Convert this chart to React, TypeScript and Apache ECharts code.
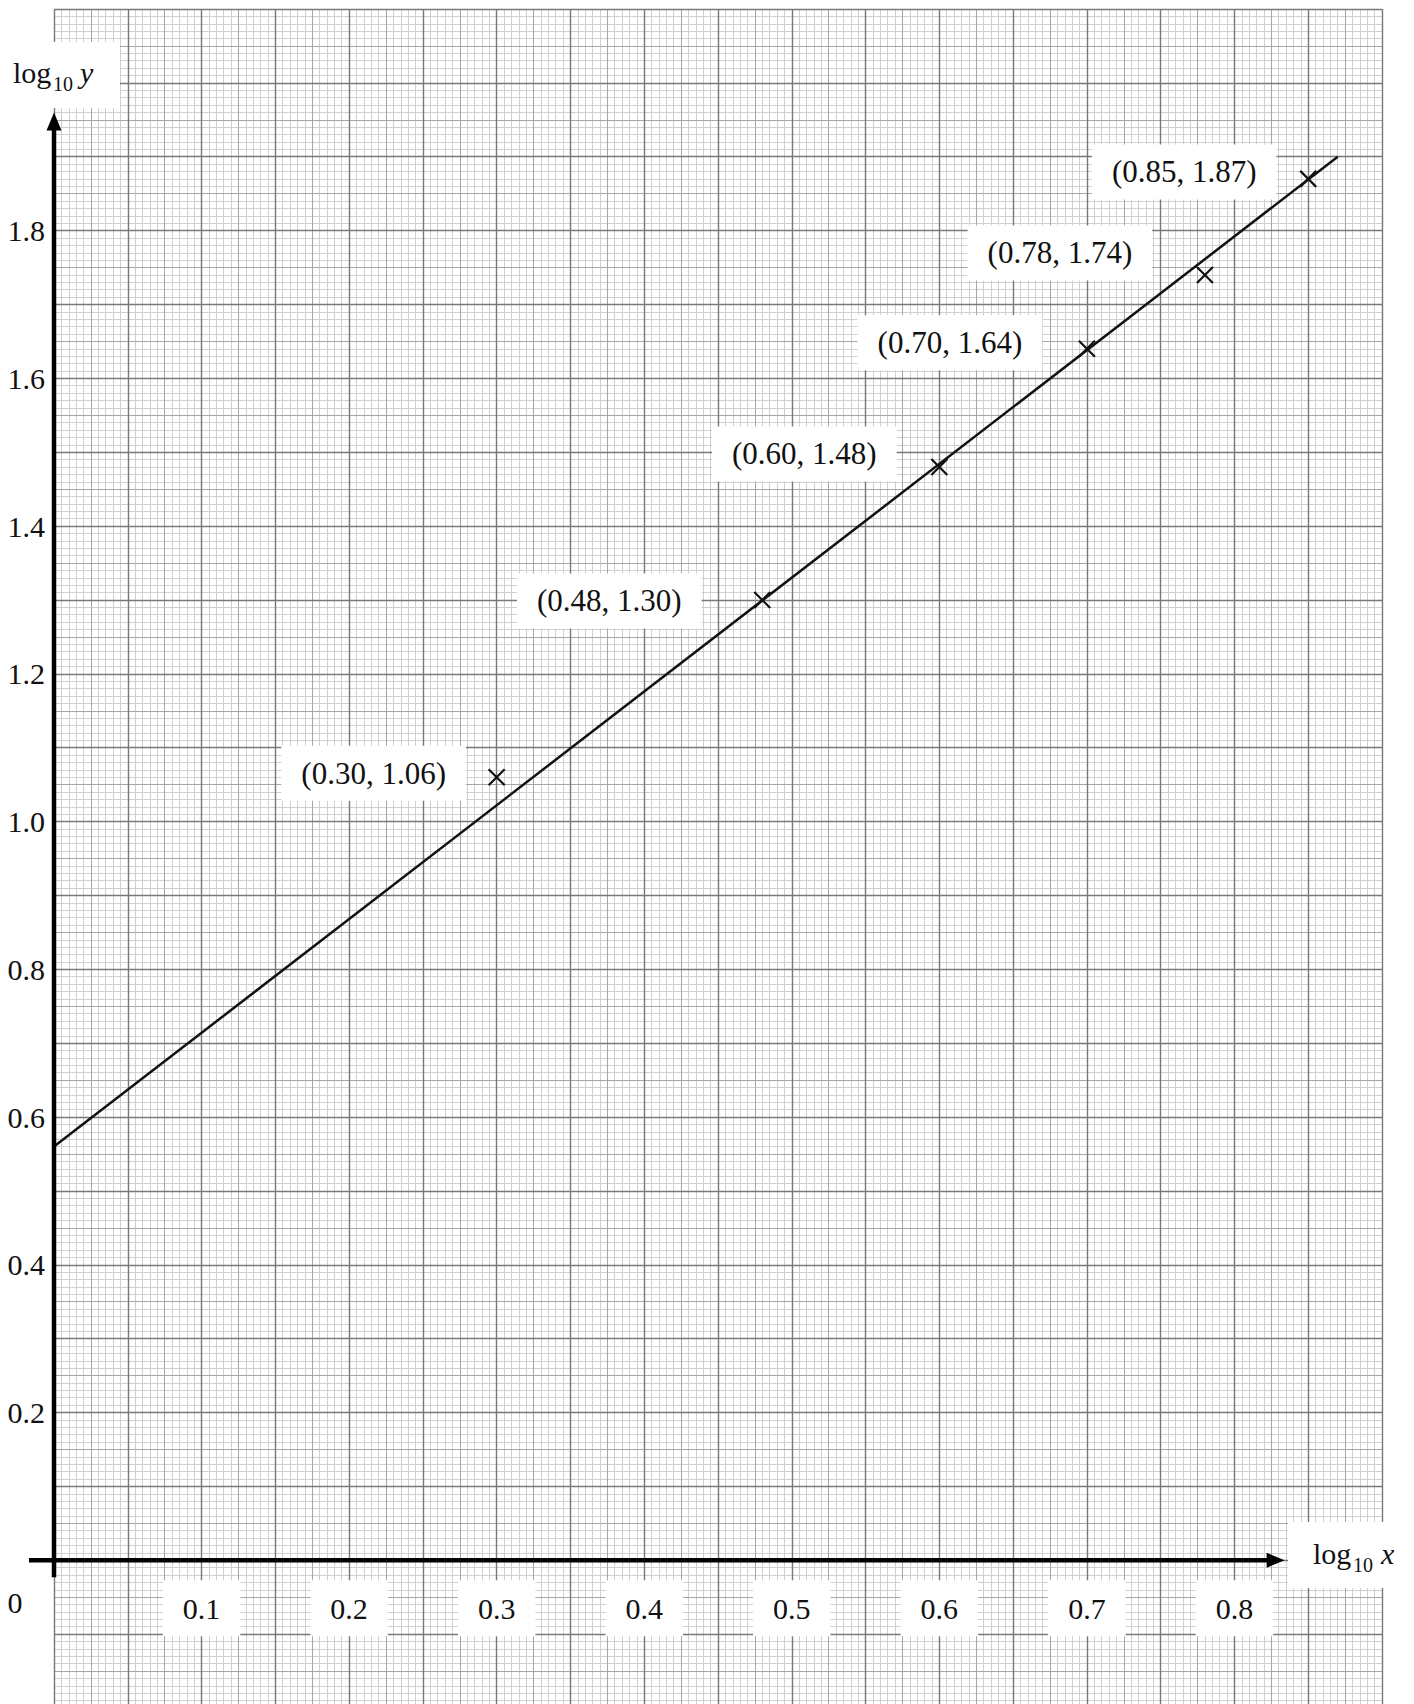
import React, { useEffect, useRef } from 'react';
import * as echarts from 'echarts';

// ---- data ----
const pointsX = [0.3, 0.48, 0.6, 0.7, 0.78, 0.85];
const pointsY = [1.06, 1.3, 1.48, 1.64, 1.74, 1.87];
const fitLineX = [0, 0.87];
const fitLineY = [0.56, 1.9];
const xTickValues = [0.1, 0.2, 0.3, 0.4, 0.5, 0.6, 0.7, 0.8];
const yTickValues = [0.2, 0.4, 0.6, 0.8, 1.0, 1.2, 1.4, 1.6, 1.8];
const originLabel = '0';
const xTitleParts = ['log', '10', 'x'];
const yTitleParts = ['log', '10', 'y'];

// ---- styling (label offsets in px relative to each point) ----
const labelOffsets = [
  [-123, -4],
  [-153, 1],
  [-135, -13],
  [-137, -6],
  [-145, -22],
  [-124, -7],
];

const FONT = '"Liberation Serif", "Times New Roman", serif';
const INK = '#111';
const Y_MIN = -0.2;

export default function App() {
  const ref = useRef<HTMLDivElement>(null);

  useEffect(() => {
    const chart = echarts.init(ref.current as HTMLDivElement, null, { renderer: 'svg' });

    const gridX = (interval: number, color: string, width: number, z: number) => ({
      type: 'value',
      min: 0,
      max: 0.9,
      interval,
      z,
      axisLine: { show: false, onZero: false },
      axisTick: { show: false },
      axisLabel: { show: false },
      splitLine: { show: true, lineStyle: { color, width } },
    });
    const gridY = (interval: number, color: string, width: number, z: number) => ({
      type: 'value',
      min: Y_MIN,
      max: 2.1,
      interval,
      z,
      axisLine: { show: false, onZero: false },
      axisTick: { show: false },
      axisLabel: { show: false },
      splitLine: { show: true, lineStyle: { color, width } },
    });

    const option: any = {
      animation: false,
      backgroundColor: '#fff',
      grid: { left: 54, right: 32, top: 9, bottom: 12, containLabel: false, outerBoundsMode: 'none' },
      xAxis: [
        {
          type: 'value',
          min: 0,
          max: 0.9,
          interval: 0.05,
          z: 10,
          position: 'bottom',
          offset: 0,
          axisLine: { show: false, onZero: false },
          axisTick: { show: false },
          splitLine: { show: false },
          axisLabel: {
            customValues: xTickValues,
            formatter: (v: number) => v.toFixed(1),
            fontSize: 30,
            lineHeight: 30,
            fontFamily: FONT,
            color: INK,
            backgroundColor: '#fff',
            padding: [13, 20, 13, 20],
            margin: 20,
          },
        },
        gridX(0.05, '#787878', 1.4, 3),
        gridX(0.025, '#a6a6a6', 1, 2),
        gridX(0.005, '#cfcfcf', 1, 1),
      ],
      yAxis: [
        {
          type: 'value',
          min: Y_MIN,
          max: 2.1,
          interval: 0.1,
          z: 10,
          position: 'left',
          axisLine: { show: false, onZero: false },
          axisTick: { show: false },
          splitLine: { show: false },
          axisLabel: {
            customValues: yTickValues,
            formatter: (v: number) => v.toFixed(1),
            fontSize: 30,
            fontFamily: FONT,
            color: INK,
            margin: 9,
          },
        },
        gridY(0.1, '#787878', 1.4, 3),
        gridY(0.05, '#a6a6a6', 1, 2),
        gridY(0.01, '#cfcfcf', 1, 1),
      ],
      series: [
        {
          type: 'line',
          z: 5,
          symbol: 'none',
          silent: true,
          lineStyle: { color: INK, width: 2.5 },
          data: fitLineX.map((x, i) => [x, fitLineY[i]]),
        },
        {
          type: 'scatter',
          z: 6,
          symbol: 'path://M0,0L10,10M10,0L0,10',
          symbolSize: 16,
          itemStyle: { color: 'rgba(0,0,0,0)', borderColor: INK, borderWidth: 2.2, opacity: 1 },
          label: {
            show: true,
            position: 'inside',
            formatter: (p: any) => `(${p.value[0].toFixed(2)}, ${p.value[1].toFixed(2)})`,
            fontSize: 31,
            lineHeight: 31,
            fontFamily: FONT,
            color: INK,
            backgroundColor: '#fff',
            padding: [12, 20, 12, 20],
          },
          data: pointsX.map((x, i) => ({
            value: [x, pointsY[i]],
            label: { offset: labelOffsets[i] },
          })),
        },
      ],
    };

    chart.setOption(option);

    const toPx = (x: number, y: number) =>
      chart.convertToPixel({ gridIndex: 0 } as any, [x, y]) as number[];
    const [ox, oy] = toPx(0, 0);
    const [, yBottom] = toPx(0, Y_MIN);
    const [, yTip] = toPx(0, 1.96);
    const [xTip] = toPx(0.834, 0);
    const axisW = 4.5;
    const head = 18;
    const halfHead = 7.5;

    const txt = (text: string, x: number, y: number, size: number, italic = false, align = 'left') => ({
      type: 'text',
      z: 21,
      x,
      y,
      style: {
        text,
        fontSize: size,
        fontFamily: FONT,
        fontStyle: italic ? 'italic' : 'normal',
        fill: INK,
        align,
        verticalAlign: 'middle',
      },
    });

    chart.setOption({
      // move the labelled x axis up onto y = 0
      xAxis: [{ offset: -(yBottom - oy) }],
      graphic: [
        // axes
        {
          type: 'line',
          z: 20,
          shape: { x1: ox, y1: oy + 17, x2: ox, y2: yTip + head - 1 },
          style: { stroke: '#000', lineWidth: axisW },
        },
        {
          type: 'polygon',
          z: 20,
          shape: { points: [[ox, yTip], [ox - halfHead, yTip + head], [ox + halfHead, yTip + head]] },
          style: { fill: '#000' },
        },
        {
          type: 'line',
          z: 20,
          shape: { x1: ox - 25, y1: oy, x2: xTip - head + 1, y2: oy },
          style: { stroke: '#000', lineWidth: axisW },
        },
        {
          type: 'polygon',
          z: 20,
          shape: { points: [[xTip, oy], [xTip - head, oy - halfHead], [xTip - head, oy + halfHead]] },
          style: { fill: '#000' },
        },
        // origin label
        txt(originLabel, ox - 39, oy + 42, 30, false, 'center'),
        // y title
        { type: 'rect', z: 20, shape: { x: 0, y: 42, width: 120, height: 66 }, style: { fill: '#fff' } },
        txt(yTitleParts[0], 13, 72, 30),
        txt(yTitleParts[1], 53, 84, 20),
        txt(yTitleParts[2], 80, 72, 30, true),
        // x title
        { type: 'rect', z: 20, shape: { x: 1288, y: 1522, width: 126, height: 66 }, style: { fill: '#fff' } },
        txt(xTitleParts[0], 1313, 1553, 30),
        txt(xTitleParts[1], 1353, 1565, 20),
        txt(xTitleParts[2], 1381, 1553, 30, true),
      ],
    });

    return () => chart.dispose();
  }, []);

  return (
    <div
      style={{
        position: 'fixed',
        left: 0,
        top: 0,
        width: 1414,
        height: 1704,
        overflow: 'hidden',
        background: '#fff',
      }}
    >
      <div ref={ref} style={{ width: 1414, height: 1720 }} />
    </div>
  );
}
